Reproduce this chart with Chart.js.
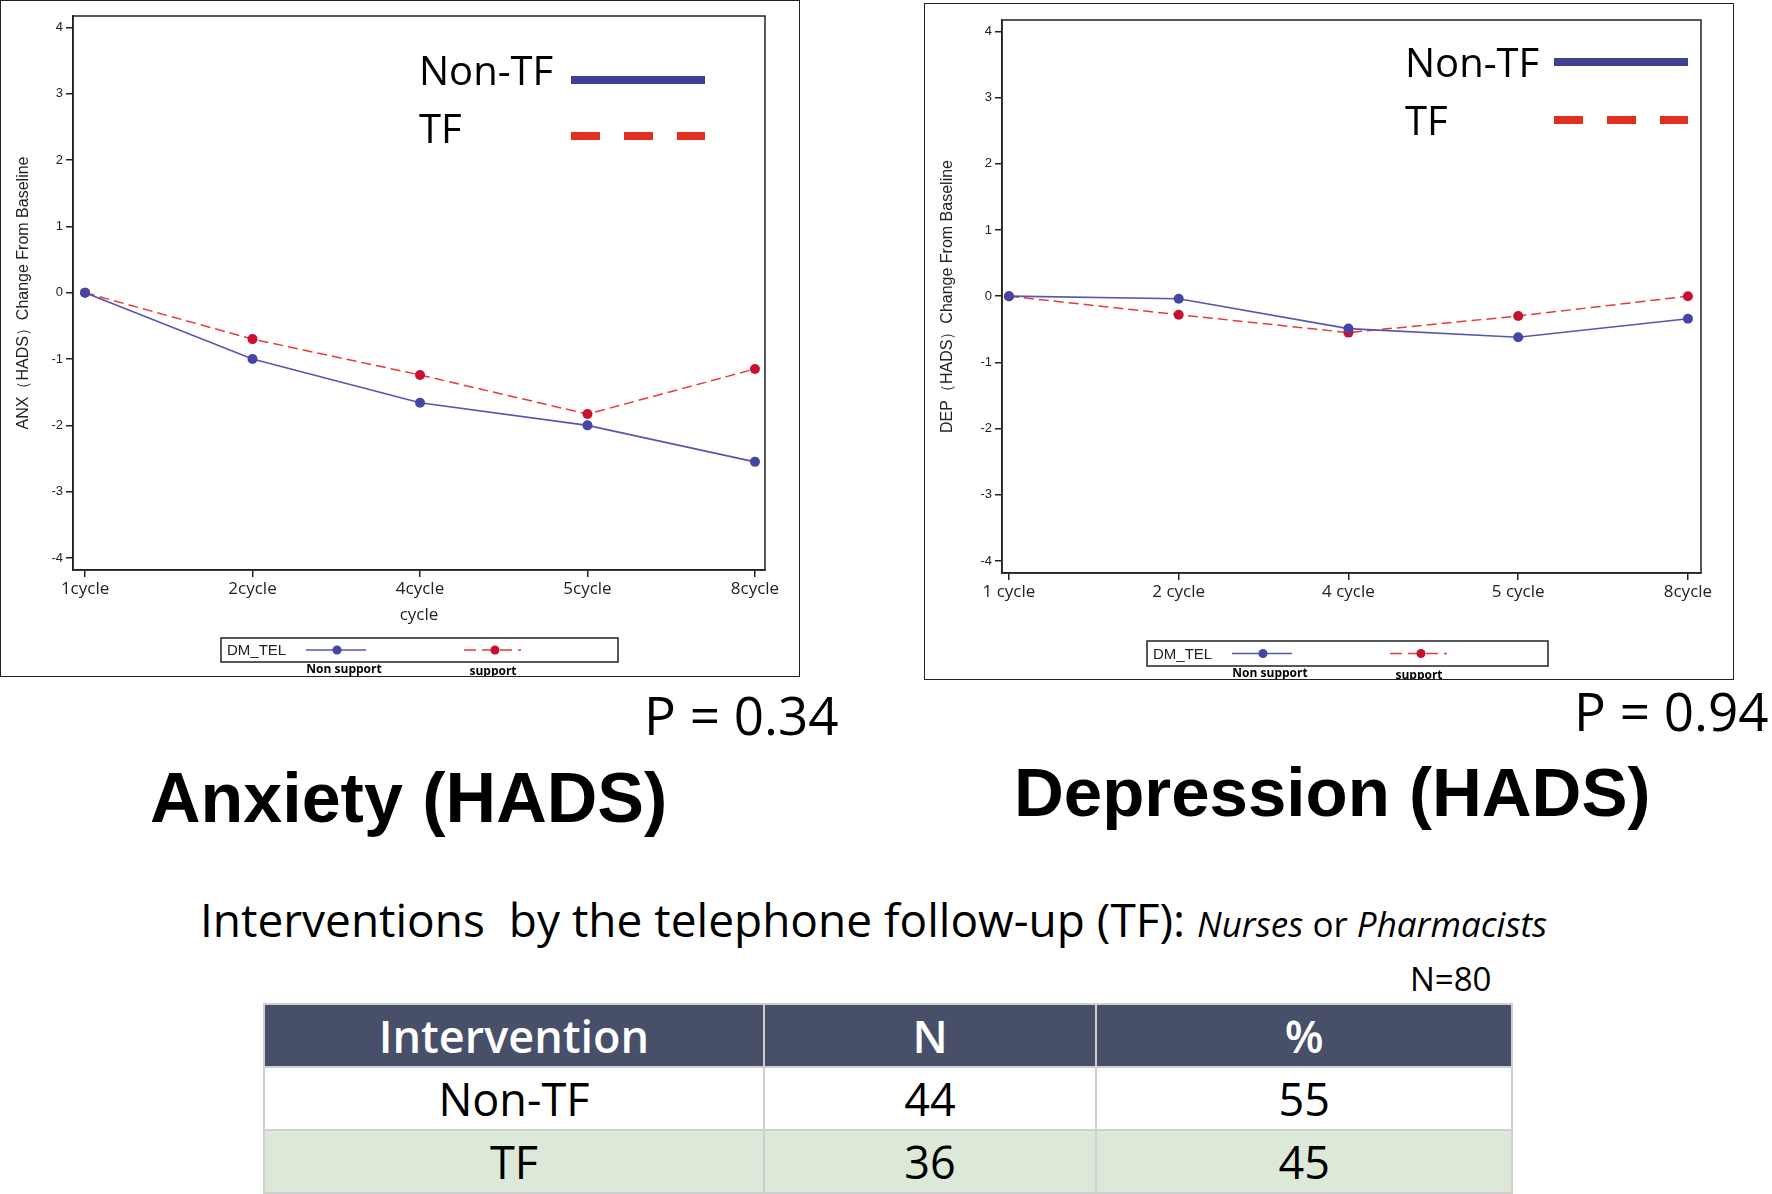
<!DOCTYPE html>
<html>
<head>
<meta charset="utf-8">
<script src="https://cdn.jsdelivr.net/npm/chart.js@4.4.1/dist/chart.umd.min.js"></script>
<style>
  html, body { margin: 0; padding: 0; background: #fff; }
  body { width: 1772px; height: 1194px; position: relative; overflow: hidden; font-family: "Open Sans", sans-serif; }
  .panel { position: absolute; outline: 1.5px solid #222; outline-offset: -1.5px; background: #fff; }
  .txt { position: absolute; transform: translateY(-50%); line-height: 1; white-space: nowrap; color: #000; }
  .big { font-family: "Liberation Sans", Arial, sans-serif; font-weight: bold; font-size: 69px; }
  .pval { font-size: 53px; }
  table { position: absolute; left: 263px; top: 1003px; width: 1250px; border-collapse: collapse; font-size: 45px; }
  td, th { border: 2px solid #cfcfcf; text-align: center; padding: 0; }
  th { background: #474f69; color: #fff; font-weight: 600; height: 61px; }
  td { height: 60px; }
  tr.alt td { background: #dde9d8; }
</style>
</head>
<body>
<div class="panel" style="left:0;top:0;width:800px;height:677px;"><canvas id="anx"></canvas></div>
<div class="panel" style="left:924px;top:3px;width:810px;height:677px;"><canvas id="dep"></canvas></div>

<div class="txt pval" style="left:644px;top:714px;">P = 0.34</div>
<div class="txt pval" style="left:1574px;top:710px;">P = 0.94</div>
<div class="txt big" style="left:150px;top:798px;font-size:70px;">Anxiety (HADS)</div>
<div class="txt big" style="left:1014px;top:792px;">Depression (HADS)</div>
<div class="txt" style="left:200px;top:919px;font-size:46px;">Interventions&nbsp; by the telephone follow-up (TF): <i style="font-size:35px;">Nurses</i><span style="font-size:35px;"> or </span><i style="font-size:35px;">Pharmacists</i></div>
<div class="txt" style="left:1410px;top:978px;font-size:33px;">N=80</div>
<table id="tbl"></table>

<script>
// values
const cyclesAnx = ["1cycle", "2cycle", "4cycle", "5cycle", "8cycle"];
const cyclesDep = ["1 cycle", "2 cycle", "4 cycle", "5 cycle", "8cycle"];
const anxNonTF = [0, -1.0, -1.66, -2.0, -2.55];
const anxTF = [0, -0.70, -1.24, -1.83, -1.15];
const depNonTF = [0, -0.04, -0.49, -0.62, -0.34];
const depTF = [0, -0.28, -0.55, -0.30, 0];
const yTicks = [-4, -3, -2, -1, 0, 1, 2, 3, 4];

const tableHead = ["Intervention", "N", "%"];
const groups = ["Non-TF", "TF"];
const counts = [44, 36];
const percents = [55, 45];

const blueLine = "#5656b0";
const bluePoint = "#4545a3";
const blueLegend = "#3f3f94";
const redLine = "#e83a3a";
const redPoint = "#c9102e";
const redLegend = "#e03020";

// table
const tbl = document.getElementById("tbl");
tbl.innerHTML = "<tr>" + tableHead.map(h => `<th>${h}</th>`).join("") + "</tr>" +
  groups.map((g, i) => `<tr class="${i % 2 ? "alt" : ""}"><td>${g}</td><td>${counts[i]}</td><td>${percents[i]}</td></tr>`).join("");
document.querySelectorAll("#tbl tr").forEach((tr) => {
  const w = [500, 333, 417];
  [...tr.children].forEach((c, j) => c.style.width = w[j] + "px");
});

// frame + inset legend + DM_TEL box
const panelDeco = {
  id: "panelDeco",
  afterDraw(chart, args, o) {
    const { ctx, chartArea: a } = chart;
    ctx.save();
    ctx.strokeStyle = "#222";
    ctx.lineWidth = 1.5;
    ctx.strokeRect(a.left, a.top, a.right - a.left, a.bottom - a.top);

    // big inset legend
    ctx.fillStyle = "#000";
    ctx.font = "40px 'Open Sans'";
    ctx.textBaseline = "middle";
    ctx.fillText("Non-TF", o.textX, o.row1);
    ctx.fillText("TF", o.textX, o.row2);
    ctx.lineWidth = 8;
    ctx.strokeStyle = blueLegend;
    ctx.beginPath(); ctx.moveTo(o.lineX1, o.line1); ctx.lineTo(o.lineX2, o.line1); ctx.stroke();
    ctx.strokeStyle = redLegend;
    ctx.setLineDash([29, 24]);
    ctx.beginPath(); ctx.moveTo(o.lineX1, o.line2); ctx.lineTo(o.lineX2, o.line2); ctx.stroke();
    ctx.setLineDash([]);

    // DM_TEL box
    const b = o.box;
    ctx.lineWidth = 1.5;
    ctx.strokeStyle = "#222";
    ctx.strokeRect(b.x, b.y, b.w, b.h);
    const cy = b.y + b.h / 2;
    ctx.font = "15px 'Liberation Sans'";
    ctx.fillStyle = "#222";
    ctx.fillText("DM_TEL", b.x + 6, cy + 1);
    const items = [
      { x1: b.x + 85, x2: b.x + 145, dot: b.x + 116, line: blueLine, pt: bluePoint, dash: [], label: "Non support", lx: b.x + 123, ly: b.y + b.h + 8 },
      { x1: b.x + 243, x2: b.x + 300, dot: b.x + 274, line: redLine, pt: redPoint, dash: [12, 6], label: "support", lx: b.x + 272, ly: b.y + b.h + 10 }
    ];
    items.forEach(it => {
      ctx.strokeStyle = it.line;
      ctx.lineWidth = 1.5;
      ctx.setLineDash(it.dash);
      ctx.beginPath(); ctx.moveTo(it.x1, cy); ctx.lineTo(it.x2, cy); ctx.stroke();
      ctx.setLineDash([]);
      ctx.fillStyle = it.pt;
      ctx.beginPath(); ctx.arc(it.dot, cy, 4.5, 0, Math.PI * 2); ctx.fill();
      ctx.fillStyle = "#000";
      ctx.font = "bold 12px 'Open Sans'";
      ctx.textAlign = "center";
      ctx.fillText(it.label, it.lx, it.ly);
      ctx.textAlign = "left";
    });
    ctx.restore();
  }
};

const makeChart = (id, labels, nonTF, tf, yTitle, xTitle, layout, deco) => {
  const datasets = [
    {
      label: "Non support",
      data: nonTF.map((v, i) => ({ x: i, y: v })),
      borderColor: blueLine,
      borderWidth: 1.6,
      pointRadius: 5,
      pointBackgroundColor: bluePoint,
      pointBorderWidth: 0,
    },
    {
      label: "support",
      data: tf.map((v, i) => ({ x: i, y: v })),
      borderColor: redLine,
      borderWidth: 1.5,
      borderDash: [10, 5],
      pointRadius: 5,
      pointBackgroundColor: redPoint,
      pointBorderWidth: 0,
    },
  ];

  return new Chart(document.getElementById(id), {
    type: "line",
    data: { datasets },
    plugins: [panelDeco],
    options: {
      responsive: true,
      maintainAspectRatio: false,
      animation: false,
      layout: { padding: { top: layout.top, right: layout.right, left: 0, bottom: 0 } },
      plugins: {
        legend: { display: false },
        tooltip: { enabled: false },
        panelDeco: deco,
      },
      scales: {
        x: {
          type: "linear",
          min: layout.xMin,
          max: layout.xMax,
          afterBuildTicks: (axis) => { axis.ticks = labels.map((_, i) => ({ value: i })); },
          afterFit: (s) => { s.height = layout.xh; },
          ticks: {
            callback: (v) => labels[v],
            color: "#222",
            font: { family: "Open Sans", size: 17 },
            padding: 2,
            maxRotation: 0,
          },
          grid: { drawOnChartArea: false, drawTicks: true, tickLength: 7, color: "#222", lineWidth: 1.5 },
          border: { display: true, color: "#222", width: 1.5 },
          title: {
            display: !!xTitle,
            text: xTitle,
            color: "#222",
            font: { family: "Open Sans", size: 17 },
            padding: { top: 0, bottom: 52 },
          },
        },
        y: {
          min: -4.18,
          max: 4.17,
          afterBuildTicks: (axis) => { axis.ticks = yTicks.map(v => ({ value: v })); },
          afterFit: (s) => { s.width = layout.yw; },
          ticks: {
            callback: (v) => String(v),
            color: "#222",
            font: { family: "Liberation Sans", size: 13 },
            padding: 3,
          },
          grid: { drawOnChartArea: false, drawTicks: true, tickLength: 7, color: "#222", lineWidth: 1.5 },
          border: { display: true, color: "#222", width: 1.5 },
          title: {
            display: true,
            text: yTitle,
            color: "#222",
            font: { family: "Liberation Sans", size: 16 },
            padding: { top: 14, bottom: 0 },
          },
        },
      },
    },
  });
};

makeChart("anx", cyclesAnx, anxNonTF, anxTF, "ANX（HADS）Change From Baseline", "cycle",
  { top: 16, right: 35, xh: 107, yw: 73, xMin: -0.072, xMax: 4.06 },
  { textX: 419, row1: 74, row2: 132, line1: 80, line2: 136, lineX1: 571, lineX2: 705,
    box: { x: 221, y: 638, w: 397, h: 24 } });

makeChart("dep", cyclesDep, depNonTF, depTF, "DEP（HADS）Change From Baseline", "",
  { top: 17, right: 33, xh: 107, yw: 78, xMin: -0.041, xMax: 4.077 },
  { textX: 481, row1: 63, row2: 121, line1: 59, line2: 117, lineX1: 630, lineX2: 764,
    box: { x: 223, y: 638, w: 401, h: 25 } });
</script>
</body>
</html>
